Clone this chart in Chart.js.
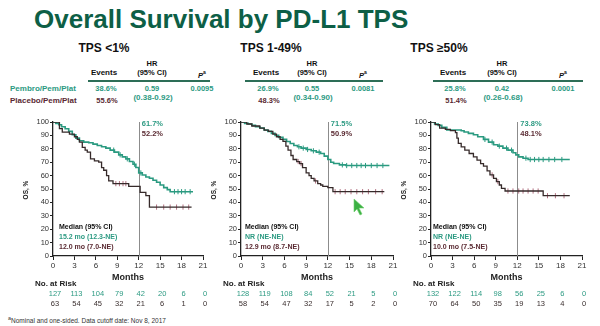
<!DOCTYPE html>
<html>
<head>
<meta charset="utf-8">
<script src="https://cdn.jsdelivr.net/npm/chart.js@4.4.1/dist/chart.umd.min.js"></script>
<style>
  body { margin: 0; width: 600px; height: 326px; position: relative; overflow: hidden; background: #fff;
         font-family: "Liberation Sans", Arial, sans-serif; }
  .t { position: absolute; white-space: nowrap; }
  canvas { position: absolute; }
  .rule { position: absolute; height: 2px; background: #2d6e57; }
</style>
</head>
<body>
<div id="root"></div>
<script>
// ---- data ----
const months = [0, 3, 6, 9, 12, 15, 18, 21];

// TPS <1%
const p1PembroT = [0, 0.4, 0.8, 1.2, 1.7, 2.2, 2.7, 3.2, 3.7, 4.3, 5, 5.6, 6.2, 6.8, 7.4, 8, 8.6, 9.2, 9.7, 10.2, 10.7, 11.2, 11.6, 12, 12.5, 13, 13.5, 14, 14.5, 15, 15.5, 16, 16.4, 19.6];
const p1PembroS = [100, 99, 98, 96.5, 95, 93, 90.5, 88, 86, 85, 84.5, 83.5, 82.5, 81.5, 80.5, 79, 77.5, 75.5, 74, 72.5, 70.5, 68.5, 66, 62, 60.5, 59, 58, 56.5, 55, 53, 51, 49.5, 48, 48];
const p1PlaceboT = [0, 0.9, 1.3, 2.3, 3, 3.4, 3.7, 4.1, 4.5, 4.8, 5.25, 5.8, 6.4, 6.8, 7.1, 7.5, 7.8, 8.4, 10.6, 12.2, 13, 13.5, 19.4];
const p1PlaceboS = [100, 95, 92.5, 91, 89, 87, 85, 81, 79, 77.5, 72.5, 71, 70, 66, 64, 60, 56, 54, 52, 47.5, 45, 36.5, 36.5];
const p1PembroCens = [8.5, 9.4, 10.4, 11.4, 12.3, 17, 17.5, 18, 18.5, 19.2];
const p1PlaceboCens = [8.8, 9.3, 9.8, 10.2, 14.5, 15.5, 16.4, 17.3, 18.2, 19];
const p1RiskPembro = [127, 113, 104, 79, 42, 20, 6, 0];
const p1RiskPlacebo = [63, 54, 45, 32, 21, 6, 1, 0];

// TPS 1-49%
const p2PembroT = [0, 0.5, 1, 1.5, 2, 2.6, 3.2, 3.7, 4.2, 4.7, 5.2, 5.8, 6.3, 6.8, 7.3, 7.8, 8.3, 9, 9.7, 10.4, 11, 11.5, 12, 12.4, 12.8, 13.6, 14.5, 20.5];
const p2PembroS = [100, 99, 98.5, 97.5, 96.5, 95.5, 94, 93, 91.5, 90, 88.5, 87, 85.5, 84, 82.5, 81.5, 80.5, 79.5, 78.5, 77.5, 76.5, 74.5, 72, 70, 69, 68, 67.5, 67.5];
const p2PlaceboT = [0, 0.8, 1.5, 2.6, 3.2, 3.8, 4.4, 4.9, 5.4, 5.8, 6.2, 6.5, 6.9, 7.2, 7.7, 8.1, 8.5, 9, 9.4, 9.7, 10.1, 10.6, 11, 11.3, 12, 12.7, 19.8];
const p2PlaceboS = [100, 98.5, 97, 95.5, 94, 93, 91, 89, 87, 85.5, 82, 79, 75, 72, 70.5, 69, 66, 62, 60, 58, 56, 54, 53, 52, 51, 48, 48];
const p2PembroCens = [8, 8.6, 9.2, 10, 10.8, 14, 14.6, 15.3, 16, 16.6, 17.2, 18, 18.8, 19.6];
const p2PlaceboCens = [7.9, 8.3, 10.3, 13, 13.7, 14.4, 15.2, 16, 16.8, 17.6, 18.6, 19.5];
const p2RiskPembro = [128, 119, 108, 84, 52, 21, 5, 0];
const p2RiskPlacebo = [58, 54, 47, 32, 17, 5, 2, 0];

// TPS >=50%
const p3PembroT = [0, 0.5, 1, 1.5, 2.2, 4.2, 4.6, 5.2, 5.9, 6.5, 7.3, 8, 8.7, 9.3, 10, 10.7, 11.4, 11.8, 12.2, 12.8, 13.5, 19.3];
const p3PembroS = [100, 98.5, 97.5, 96, 94, 93.5, 92.5, 91.5, 90.5, 89, 87, 85, 83, 82, 80.5, 79, 77, 75.5, 74, 73, 72, 72];
const p3PlaceboT = [0, 0.6, 1.2, 2, 2.7, 3.4, 3.6, 3.8, 4.2, 4.7, 5.3, 5.9, 6.4, 6.9, 7.3, 7.8, 8.2, 8.7, 9.1, 9.5, 9.8, 10.3, 15.6, 19.3];
const p3PlaceboS = [100, 98, 95.5, 94.5, 93.5, 92, 88, 84, 81.5, 79, 76.5, 74, 71.5, 69, 67, 63.5, 60.5, 58, 55.5, 53, 50.5, 48.5, 45, 45];
const p3PembroCens = [7.5, 8.5, 9.5, 10.5, 11.2, 13.2, 13.8, 14.4, 15, 15.6, 16.4, 17.2, 18.2];
const p3PlaceboCens = [8.5, 9.3, 10.7, 11.4, 12.2, 12.8, 13.5, 14.2, 14.9, 16.2, 17.3, 18.5];
const p3RiskPembro = [132, 122, 114, 98, 56, 25, 6, 0];
const p3RiskPlacebo = [70, 64, 50, 35, 19, 13, 4, 0];

const subtitles = ['TPS <1%', 'TPS 1-49%', 'TPS \u226550%'];
const eventsPembro = ['38.6%', '26.9%', '25.8%'];
const eventsPlacebo = ['55.6%', '48.3%', '51.4%'];
const hrValues = ['0.59', '0.55', '0.42'];
const hrCI = ['(0.38-0.92)', '(0.34-0.90)', '(0.26-0.68)'];
const pValues = ['0.0095', '0.0081', '0.0001'];
const landmarkPembro = ['61.7%', '71.5%', '73.8%'];
const landmarkPlacebo = ['52.2%', '50.9%', '48.1%'];
const medianPembro = ['15.2 mo (12.3-NE)', 'NR (NE-NE)', 'NR (NE-NE)'];
const medianPlacebo = ['12.0 mo (7.0-NE)', '12.9 mo (8.7-NE)', '10.0 mo (7.5-NE)'];

const TEAL = '#2a9a80';
const TEAL_TXT = '#2c9a82';
const PLAC = '#362a2a';
const PLAC_TXT = '#5a2a32';
const PLAC_CENS = '#b27080';
const FONT = '"Liberation Sans", Arial, sans-serif';

// ---- static text ----
const root = document.getElementById('root');
function txt(x, y, s, o = {}) {
  const d = document.createElement('div');
  d.className = 't';
  const fs = o.size || 8;
  d.style.fontSize = fs + 'px';
  d.style.lineHeight = fs + 'px';
  d.style.top = (y - fs / 2) + 'px';
  d.style.left = x + 'px';
  d.style.fontWeight = o.weight || 'bold';
  d.style.color = o.color || '#111';
  if (o.center) d.style.transform = 'translateX(-50%)';
  d.innerHTML = s;
  root.appendChild(d);
}

txt(34, 19, 'Overall Survival by PD-L1 TPS', { size: 26, color: '#0d5f46' });

const subX = [104, 271, 439];
const evX = [104, 266, 453];
const hrX = [152, 312, 502];
const pX = [202, 363, 563];
const rules = [[88, 210], [245, 383], [433, 583]];
for (let i = 0; i < 3; i++) {
  txt(subX[i], 48, subtitles[i], { size: 12, center: true });
  txt(hrX[i], 64, 'HR', { size: 7.5, center: true });
  txt(hrX[i], 73, '(95% CI)', { size: 7.5, center: true });
  txt(evX[i], 73, 'Events', { size: 8, center: true });
  txt(pX[i], 73, '<i>P</i><sup style="font-size:5px">a</sup>', { size: 7.5, center: true });
  const r = document.createElement('div');
  r.className = 'rule';
  r.style.left = rules[i][0] + 'px';
  r.style.width = (rules[i][1] - rules[i][0]) + 'px';
  r.style.top = '80px';
  root.appendChild(r);
  txt(evX[i] + 2, 89, eventsPembro[i], { size: 7.5, color: TEAL_TXT, center: true });
  txt(evX[i] + 3, 101, eventsPlacebo[i], { size: 7.5, color: PLAC_TXT, center: true });
  txt(hrX[i], 89, hrValues[i], { size: 7.5, color: TEAL_TXT, center: true });
  txt(hrX[i] + 1, 97.5, hrCI[i], { size: 8, color: TEAL_TXT, center: true });
  txt(pX[i], 89, pValues[i], { size: 7.5, color: TEAL_TXT, center: true });
}
txt(10, 89, 'Pembro/Pem/Plat', { size: 8, color: TEAL_TXT });
txt(10, 101, 'Placebo/Pem/Plat', { size: 8, color: PLAC_TXT });
txt(8, 318, '<sup>a</sup>Nominal and one-sided. Data cutoff date: Nov 8, 2017', { size: 6.5, weight: 'normal', color: '#333' });

// mouse cursor seen on the slide
root.insertAdjacentHTML('beforeend',
  '<svg style="position:absolute;left:352px;top:198px" width="14" height="18"><polygon points="2,1 2,14 5,11 8,17 10,16 7,10 12,10" fill="#3cb043" stroke="#6fd06f" stroke-width="0.6"/></svg>');

// ---- charts ----
function survAt(T, S, t) {
  let v = S[0];
  for (let i = 0; i < T.length; i++) if (T[i] <= t) v = S[i];
  return v;
}
const pts = (T, S) => T.map((t, i) => ({ x: t, y: S[i] }));
const cens = (C, T, S) => C.map(t => ({ x: t, y: survAt(T, S, t) }));

const panels = [
  { left: 0, width: 210, yw: 53, pr: 7, pT: p1PembroT, pS: p1PembroS, qT: p1PlaceboT, qS: p1PlaceboS,
    pC: p1PembroCens, qC: p1PlaceboCens, rp: p1RiskPembro, rq: p1RiskPlacebo, medX: 6, i: 0 },
  { left: 205, width: 195, yw: 36, pr: 7, pT: p2PembroT, pS: p2PembroS, qT: p2PlaceboT, qS: p2PlaceboS,
    pC: p2PembroCens, qC: p2PlaceboCens, rp: p2RiskPembro, rq: p2RiskPlacebo, medX: 4, i: 1 },
  { left: 398, width: 200, yw: 33, pr: 16, pT: p3PembroT, pS: p3PembroS, qT: p3PlaceboT, qS: p3PlaceboS,
    pC: p3PembroCens, qC: p3PlaceboCens, rp: p3RiskPembro, rq: p3RiskPlacebo, medX: 2, i: 2 }
];

function makeExtras(p) {
  return {
    id: 'extras' + p.i,
    beforeDatasetsDraw(chart) {
      const { ctx, chartArea: a, scales: { x } } = chart;
      const x12 = Math.round(x.getPixelForValue(12)) + 0.5;
      ctx.save();
      ctx.strokeStyle = '#8c8c8c';
      ctx.lineWidth = 1;
      ctx.beginPath(); ctx.moveTo(x12, a.top); ctx.lineTo(x12, a.bottom); ctx.stroke();
      ctx.restore();
    },
    afterDraw(chart) {
      const { ctx, chartArea: a, scales: { x } } = chart;
      ctx.save();
      ctx.textBaseline = 'middle';
      const x12 = x.getPixelForValue(12);
      ctx.font = 'bold 7.5px ' + FONT;
      ctx.textAlign = 'left';
      ctx.fillStyle = TEAL_TXT; ctx.fillText(landmarkPembro[p.i], x12 + 3, a.top + 1.5);
      ctx.fillStyle = PLAC_TXT; ctx.fillText(landmarkPlacebo[p.i], x12 + 3, a.top + 12);
      ctx.font = 'bold 7px ' + FONT;
      ctx.fillStyle = '#111'; ctx.fillText('Median (95% CI)', a.left + p.medX, a.bottom - 29);
      ctx.fillStyle = TEAL_TXT; ctx.fillText(medianPembro[p.i], a.left + p.medX, a.bottom - 19);
      ctx.fillStyle = PLAC_TXT; ctx.fillText(medianPlacebo[p.i], a.left + p.medX, a.bottom - 9);
      // axis titles
      ctx.fillStyle = '#222';
      ctx.font = 'bold 9px ' + FONT;
      ctx.textAlign = 'center';
      ctx.fillText('Months', (a.left + a.right) / 2, a.bottom + 22);
      ctx.save();
      ctx.font = 'bold 6.5px ' + FONT;
      ctx.translate(a.left - 27, 190 - 112);
      ctx.rotate(-Math.PI / 2);
      ctx.fillText('OS, %', 0, 0);
      ctx.restore();
      ctx.textAlign = 'left';
      ctx.font = 'bold 8px ' + FONT;
      ctx.fillText('No. at Risk', a.left - 18, a.bottom + 28);
      // numbers at risk
      ctx.font = '7.5px ' + FONT;
      ctx.textAlign = 'center';
      months.forEach((m, k) => {
        const px = x.getPixelForValue(m) + 2;
        ctx.fillStyle = TEAL_TXT; ctx.fillText(String(p.rp[k]), px, a.bottom + 38);
        ctx.fillStyle = '#3a2e2e'; ctx.fillText(String(p.rq[k]), px, a.bottom + 48);
      });
      ctx.restore();
    }
  };
}

panels.forEach(p => {
  const c = document.createElement('canvas');
  c.width = p.width; c.height = 204;
  c.style.left = p.left + 'px'; c.style.top = '112px';
  c.style.width = p.width + 'px'; c.style.height = '204px';
  root.appendChild(c);

  const censorStyle = col => ({ showLine: false, pointStyle: 'line', rotation: 90, pointRadius: 2.6,
    pointBorderColor: col, pointBorderWidth: 1, backgroundColor: col });

  new Chart(c, {
    type: 'line',
    data: {
      datasets: [
        { data: pts(p.qT, p.qS), stepped: true, borderColor: PLAC, borderWidth: 1.3, pointRadius: 0, fill: false },
        { data: pts(p.pT, p.pS), stepped: true, borderColor: TEAL, borderWidth: 1.6, pointRadius: 0, fill: false },
        Object.assign({ data: cens(p.qC, p.qT, p.qS) }, censorStyle(PLAC_CENS)),
        Object.assign({ data: cens(p.pC, p.pT, p.pS) }, censorStyle(TEAL))
      ]
    },
    options: {
      responsive: false,
      animation: false,
      devicePixelRatio: 1,
      layout: { padding: { left: 0, right: p.pr, top: 10, bottom: 38 } },
      plugins: { legend: { display: false }, tooltip: { enabled: false } },
      scales: {
        x: {
          type: 'linear', min: 0, max: 21,
          ticks: { stepSize: 3, font: { size: 8, family: FONT }, color: '#333', padding: 1, maxRotation: 0 },
          grid: { drawOnChartArea: false, drawTicks: true, tickLength: 4, color: '#222' },
          border: { color: '#222', width: 1.3 },
          afterFit: s => { s.height = 22; s.paddingLeft = 0; s.paddingRight = 0; }
        },
        y: {
          min: 0, max: 100,
          ticks: { stepSize: 10, font: { size: 7.5, family: FONT }, color: '#333', padding: 1 },
          grid: { drawOnChartArea: false, drawTicks: true, tickLength: 3, color: '#222' },
          border: { color: '#222', width: 1.3 },
          afterFit: s => { s.width = p.yw; s.paddingTop = 0; s.paddingBottom = 0; }
        }
      }
    },
    plugins: [makeExtras(p)]
  });
});
</script>
</body>
</html>
